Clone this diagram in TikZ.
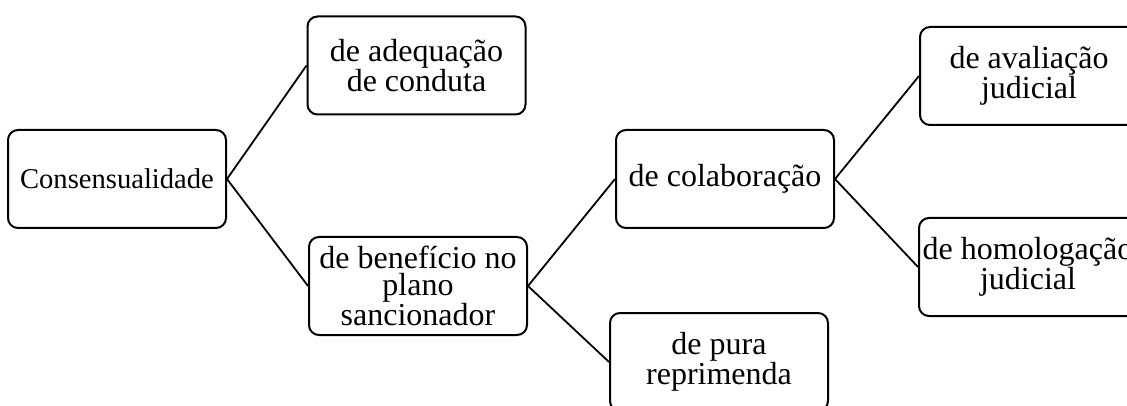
\documentclass[tikz,border=0pt]{standalone}
\usepackage{fontspec}
\setmainfont{Liberation Serif}
\begin{document}
\begin{tikzpicture}[x=1pt,y=-1pt,
  box/.style={draw, line width=2pt, rounded corners=10pt, minimum width=218pt, minimum height=98pt, inner sep=0pt, align=center, font=\fontsize{32}{27}\selectfont},
  link/.style={line width=1.8pt}]
\useasboundingbox (0,0) rectangle (1127,406);
\node[box, font=\fontsize{28.6}{27}\selectfont] (cons) at (117,179) {Consensualidade};
\node[box] (adeq) at (416.5,65.5) {de adequação\\de conduta};
\node[box] (bene) at (418,286) {de benefício no\\plano\\sancionador};
\node[box] (colab) at (725,179) {de colaboração};
\node[box] (pura) at (719,362) {de pura\\reprimenda};
\node[box] (aval) at (1029,76) {de avaliação\\judicial};
\node[box] (homol) at (1028,267) {de homologação\\judicial};
\draw[link] (cons.east) -- (adeq.west);
\draw[link] (cons.east) -- (bene.west);
\draw[link] (bene.east) -- (colab.west);
\draw[link] (bene.east) -- (pura.west);
\draw[link] (colab.east) -- (aval.west);
\draw[link] (colab.east) -- (homol.west);
\end{tikzpicture}
\end{document}
